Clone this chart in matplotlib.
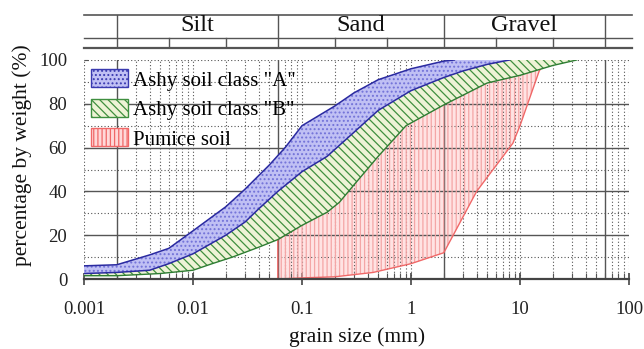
import numpy as np
import matplotlib
matplotlib.use("Agg")
import matplotlib.pyplot as plt
from matplotlib.patches import Patch

plt.rcParams['font.family'] = ['Liberation Serif', 'DejaVu Serif']
plt.rcParams['hatch.linewidth'] = 0.9

# ---------------- data ----------------
a_upper_size = [0.001, 0.002, 0.004, 0.006, 0.01, 0.02, 0.03, 0.05, 0.07, 0.1, 0.2, 0.3, 0.5, 1, 2, 2.5]
a_upper_pct = [6, 6.5, 11, 14, 22, 33, 41, 52, 60, 70, 79, 85, 91, 96, 99.5, 100]

a_lower_size = [0.001, 0.002, 0.004, 0.006, 0.01, 0.02, 0.03, 0.04, 0.06, 0.1, 0.17, 0.3, 0.5, 1, 2, 3, 5, 8]
a_lower_pct = [2.5, 3, 4, 7, 11.5, 20, 26, 32, 40, 49, 56, 67, 77, 86, 92, 95, 98, 100]

b_lower_size = [0.001, 0.002, 0.005, 0.01, 0.015, 0.023, 0.04, 0.06, 0.1, 0.17, 0.22, 0.3, 0.5, 0.9, 2, 5, 10, 20, 33]
b_lower_pct = [1.5, 1.5, 2.5, 4, 7, 10, 14.5, 18, 24.5, 30.5, 35, 43, 56, 70, 79.5, 89.5, 93, 97.5, 100]

p_upper_size = [0.06, 0.06, 0.1, 0.17, 0.3, 0.5, 0.9, 2, 5, 10, 20]
p_upper_pct = [0, 18, 25, 31, 44, 57, 71, 81, 91, 97, 100]

p_lower_size = [0.06, 0.1, 0.2, 0.45, 1, 2, 4, 8.6, 10, 15, 17.7]
p_lower_pct = [0, 0.5, 1, 3, 7, 12, 40, 62, 70, 95, 100]

x_ticks = [0.001, 0.01, 0.1, 1, 10, 100]
x_tick_labels = ["0.001", "0.01", "0.1", "1", "10", "100"]
y_ticks = [0, 20, 40, 60, 80, 100]

class_bounds = [0.002, 0.06, 2, 60]
sub_bounds = [0.006, 0.02, 0.2, 0.6, 6, 20]
class_names = ["Silt", "Sand", "Gravel"]
legend_labels = ['Ashy soil class "A"', 'Ashy soil class "B"', 'Pumice soil']

# ---------------- figure ----------------
W, H = 644, 349
fig = plt.figure(figsize=(W / 100, H / 100), dpi=100)

def fx(px):
    return px / W

def fy(py):
    return 1 - py / H

x0, x1 = 84, 629
ax = fig.add_axes([fx(x0), fy(279), fx(x1 - x0), (279 - 60) / H])
ax.set_xscale('log')
ax.set_xlim(0.001, 100)
ax.set_ylim(0, 100)

gcol = '#555555'
# grid
for v in [10, 30, 50, 70, 90, 100]:
    ax.axhline(v, color=gcol, lw=0.8, ls=(0, (1, 2)), zorder=1.5)
for v in [20, 40, 60, 80]:
    ax.axhline(v, color=gcol, lw=1.0, zorder=1.5)
for dec in [0.001, 0.01, 0.1, 1, 10]:
    for m in range(1, 10):
        v = dec * m
        if any(abs(v - b) / b < 1e-6 for b in class_bounds):
            continue
        ax.axvline(v, color=gcol, lw=0.8, ls=(0, (1, 2)), zorder=1.5)
ax.axvline(100, color=gcol, lw=0.8, ls=(0, (1, 2)), zorder=1.5)
for b in class_bounds:
    ax.axvline(b, color=gcol, lw=1.0, zorder=1.5)

# pumice
px_ = np.r_[p_upper_size, p_lower_size[::-1]]
py_ = np.r_[p_upper_pct, p_lower_pct[::-1]]
ax.fill(px_, py_, facecolor='#ffd8d8', edgecolor='none', alpha=0.7, zorder=1)
ax.fill(px_, py_, facecolor='none', edgecolor='#f4a6a6', hatch='||||', lw=0, zorder=1.6)
ax.plot(px_, py_, color='#f06868', lw=1.0, zorder=1.7)

# class B
bx = np.r_[a_lower_size, b_lower_size[::-1]]
by = np.r_[a_lower_pct, b_lower_pct[::-1]]
ax.fill(bx, by, facecolor='#eef3d6', edgecolor='#3f8f3f', hatch='\\\\\\\\', lw=0, zorder=2)
ax.plot(b_lower_size, b_lower_pct, color='#2e7d32', lw=1.0, zorder=2.5)

# class A
axx = np.r_[a_upper_size, a_lower_size[::-1]]
ayy = np.r_[a_upper_pct, a_lower_pct[::-1]]
ax.fill(axx, ayy, facecolor='#c0c0f4', edgecolor='#7272d8', hatch='....', lw=0, zorder=3)
ax.plot(a_upper_size, a_upper_pct, color='#2a2aa0', lw=1.1, zorder=3.5)
ax.plot(a_lower_size, a_lower_pct, color='#2a2aa0', lw=1.1, zorder=3.5)

# axes styling
for s in ['top', 'right', 'left']:
    ax.spines[s].set_visible(False)
ax.spines['bottom'].set_color('#444444')
ax.spines['bottom'].set_linewidth(1.6)
ax.spines['bottom'].set_zorder(5)
ax.set_xticks(x_ticks)
ax.set_xticklabels(x_tick_labels)
ax.set_yticks(y_ticks)
ax.tick_params(axis='x', which='major', direction='inout', length=9, width=1.2,
               color='#444444', labelsize=13.5, pad=11, labelcolor='#222222')
ax.tick_params(axis='x', which='minor', direction='in', length=4, width=0.8, color='#555555')
ax.tick_params(axis='y', which='major', direction='in', length=3, width=0.8,
               color='#555555', labelsize=13.5, pad=12, labelcolor='#222222')

# legend
handles = [
    Patch(facecolor='#c0c0f4', edgecolor='#3a3ab0', hatch='....', lw=1.0),
    Patch(facecolor='#eef3d6', edgecolor='#3f8f3f', hatch='\\\\\\\\', lw=1.0),
    Patch(facecolor='#ffd8d8', edgecolor='#f06868', hatch='||||', lw=1.0),
]
leg = ax.legend(handles, legend_labels, loc='upper left', bbox_to_anchor=(0.0, 0.99),
                frameon=False, fontsize=15, handlelength=1.75, handleheight=0.95,
                handletextpad=0.25, labelspacing=0.4, borderaxespad=0.15,
                borderpad=0.2)
leg.set_zorder(6)

# header (soil classification)
hx = fig.add_axes([fx(x0), fy(48), fx(x1 - x0), (48 - 15) / H])
hx.set_xscale('log')
hx.set_xlim(0.001, 100)
hx.set_ylim(0, 1)
hx.axis('off')
mid = (48 - 38) / 33
hx.plot([0.001, 106], [1, 1], color=gcol, lw=1.2, clip_on=False)
hx.plot([0.001, 106], [mid, mid], color=gcol, lw=1.0, clip_on=False)
hx.plot([0.001, 106], [0, 0], color=gcol, lw=1.6, clip_on=False)
for b in class_bounds:
    hx.plot([b, b], [0, 1], color=gcol, lw=1.0)
for b in sub_bounds:
    hx.plot([b, b], [0, mid], color=gcol, lw=1.0)
for i, name in enumerate(class_names):
    c = np.sqrt(class_bounds[i] * class_bounds[i + 1])
    hx.text(c, (1 + mid) / 2 + 0.02, name, ha='center', va='center', fontsize=17.5, color='#111111')

# axis labels
fig.text(fx(357), fy(337), 'grain size (mm)', ha='center', va='center', fontsize=15.5, color='#111111')
fig.text(fx(22), fy(155), 'percentage by weight (%)', ha='center', va='center',
         rotation=90, fontsize=15.5, color='#111111')

fig.savefig('out.png', dpi=100)
